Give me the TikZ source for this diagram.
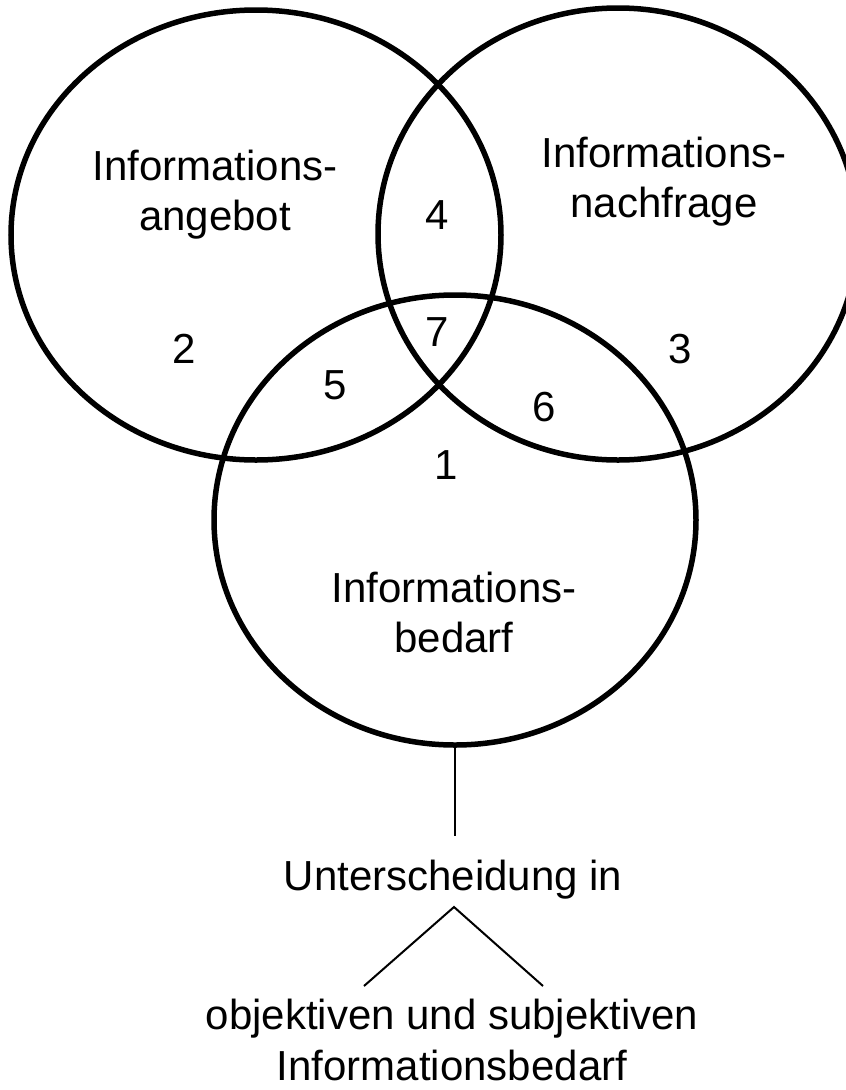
\documentclass[tikz,border=0pt]{standalone}
\usepackage{fontspec}
\setmainfont{Liberation Sans}
\usetikzlibrary{shapes.geometric}
\begin{document}
\begin{tikzpicture}[x=1pt,y=-1pt,
  set/.style={draw, ellipse, line width=5.5pt, inner sep=0pt,
              minimum width=480pt, minimum height=450pt},
  lbl/.style={font=\fontsize{42}{48}\selectfont, inner sep=0pt, align=center},
  num/.style={font=\fontsize{42}{48}\selectfont, inner sep=0pt},
  link/.style={line width=2pt}]
\useasboundingbox (0,0) rectangle (846,1090);

% the three overlapping sets
\node[set, minimum width=490pt] (L) at (256,235) {};
\node[set, minimum height=452pt] (R) at (618,234) {};
\node[set, minimum width=482pt] (B) at (455,520) {};

% set names (base = last line)
\node[lbl, anchor=base] (angebot) at (215,230) {Informations-\\[2pt]angebot};
\node[lbl, anchor=base] (nachfrage) at (664,217) {Informations-\\[2pt]nachfrage};
\node[lbl, anchor=base] (bedarf) at (454,652) {Informations-\\[2pt]bedarf};

% region numbers
\node[num] (n1) at (446,465) {1};
\node[num] (n2) at (184,349) {2};
\node[num] (n3) at (680,349) {3};
\node[num] (n4) at (437,215) {4};
\node[num] (n5) at (335,385) {5};
\node[num] (n6) at (544,407) {6};
\node[num] (n7) at (437,332) {7};

% breakdown below the demand set
\node[lbl, anchor=base] (split) at (453,890) {Unterscheidung in};
\node[lbl, anchor=base] (kinds) at (452,1080) {objektiven und subjektiven\\[3pt]Informationsbedarf};

\coordinate (stemEnd) at (455,836);
\coordinate (apex) at (454,907);
\coordinate (legL) at (364,986);
\coordinate (legR) at (543,986);

\draw[link] (B.south) -- (stemEnd);
\draw[link] (legL) -- (apex) -- (legR);
\end{tikzpicture}
\end{document}
